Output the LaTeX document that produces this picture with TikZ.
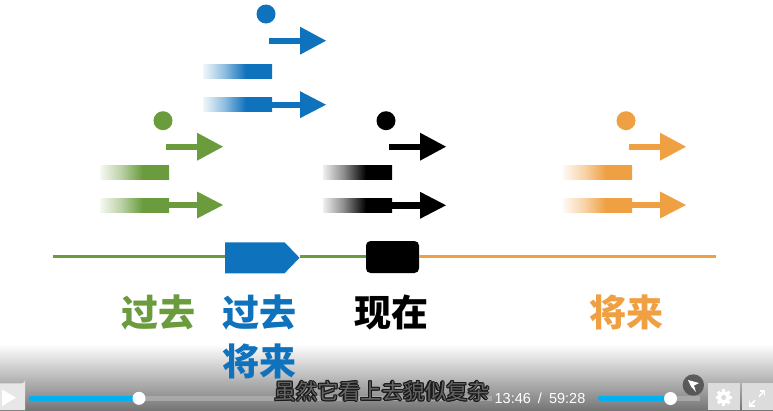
\documentclass[tikz,border=0pt]{standalone}
\usepackage{fontspec}
\newfontfamily\cjk{Noto Sans CJK SC}
\newfontfamily\ui{Liberation Sans}
\usetikzlibrary{shapes.symbols}
\definecolor{cgreen}{HTML}{6A9B3C}
\definecolor{cblue}{HTML}{0F72BD}
\definecolor{corange}{HTML}{EFA043}
\definecolor{cblk}{HTML}{000000}
\definecolor{btn}{HTML}{DCDCDC}
\definecolor{track}{HTML}{A8A8A8}
\definecolor{prog}{HTML}{00B0F0}
\colorlet{barcol}{black}
\pgfdeclarehorizontalshading[barcol]{barfade}{100bp}{%
  color(0bp)=(barcol!6); color(25bp)=(barcol!6); color(40bp)=(barcol!45);
  color(56bp)=(barcol); color(100bp)=(barcol)}
% color, x0, ydot, yarrow, ybar, ybottom
\newcommand\tgroup[6]{%
  \colorlet{barcol}{#1}%
  \fill[#1] (#2+63,#3) circle[radius=9.5];
  \fill[#1] (#2+66,#4-3.2) rectangle (#2+98,#4+3.2);
  \fill[#1] (#2+97,#4-14) -- (#2+123,#4) -- (#2+97,#4+14) -- cycle;
  \shade[shading=barfade] (#2,#5-7) rectangle (#2+69,#5+7);
  \shade[shading=barfade] (#2,#6-7) rectangle (#2+69,#6+7);
  \fill[#1] (#2+68.5,#6-3.2) rectangle (#2+98,#6+3.2);
  \fill[#1] (#2+97,#6-13.5) -- (#2+123,#6) -- (#2+97,#6+13.5) -- cycle;
}
\tikzset{
  lbl/.style={font=\cjk\bfseries\fontsize{37}{40}\selectfont, inner sep=0pt},
  tline/.style={line width=3.2pt},
  subfont/.style={font=\cjk\fontsize{21.5}{22}\selectfont, inner sep=0pt},
}
\begin{document}
\begin{tikzpicture}[x=1pt,y=-1pt]
\useasboundingbox (0,0) rectangle (773,410);
\fill[white] (0,0) rectangle (773,410);
% player gradient
\shade[top color=white, bottom color={rgb,255:red,118;green,118;blue,118}] (0,344) rectangle (773,410);

% groups
\tgroup{cgreen}{100}{120.7}{146.7}{172.3}{205}
\tgroup{cblue}{203}{14}{40.7}{71.3}{104.7}
\tgroup{cblk}{323}{120.7}{146.7}{172}{205.3}
\tgroup{corange}{563}{120.7}{146.7}{172}{205}

% timeline
\coordinate (tstart) at (52.5,256.5);
\coordinate (tend) at (716,256.5);
\node[signal, signal to=east, signal pointer angle=92, fill=cblue, inner sep=0pt,
      minimum width=74.3pt, minimum height=31pt, anchor=west] (pastfut) at (225,257.8) {};
\node[rectangle, rounded corners=4.5pt, fill=black, inner sep=0pt,
      minimum width=53pt, minimum height=32pt] (now) at (392.5,257) {};
\draw[tline, cgreen] (tstart) -- (tstart -| pastfut.west);
\draw[tline, cgreen] (pastfut.east |- tstart) -- (tstart -| now.west);
\draw[tline, corange] (tstart -| now.east) -- (tend);

% labels
\node[lbl, text=cgreen] (lpast) at (158.5,312.5) {过去};
\node[lbl, text=cblue] (lpf1) at (259,312.5) {过去};
\node[lbl, text=cblue] (lpf2) at (259,361) {将来};
\node[lbl, text=black] (lnow) at (391,312.5) {现在};
\node[lbl, text=corange] (lfut) at (626,312.5) {将来};

% player controls
\fill[btn!70!white] (0,383.3) -- (22,383.3) arc[start angle=90,end angle=0,radius=3] -- (25,410) -- (0,410) -- cycle;
\fill[white] (2,389.5) -- (16,397.7) -- (2,406) -- cycle;
\draw[track, line width=4.5pt] (139,398.3) -- (492,398.3);
\draw[prog, line width=4.5pt, line cap=round] (31,398.3) -- (139,398.3);
\fill[white] (139,398.3) circle[radius=6.5];

% subtitle with dark outline
\foreach \dx/\dy in {-1.2/0,1.2/0,0/-1.2,0/1.2,-0.9/-0.9,0.9/0.9,-0.9/0.9,0.9/-0.9}{
  \node[subfont, text={rgb,255:red,25;green,25;blue,25}] at (382+\dx,391.5+\dy) {虽然它看上去貌似复杂};
}
\node[subfont, text={rgb,255:red,100;green,100;blue,100}] (subt) at (382,391.5) {虽然它看上去貌似复杂};

\node[font=\ui\fontsize{14.5}{15}\selectfont, text=white, inner sep=0pt] (time) at (540,398.5)
  {13:46\hspace{3pt} /\hspace{3pt} 59:28};

\draw[track, line width=4.5pt] (670,398.5) -- (700,398.5);
\draw[prog, line width=4.5pt, line cap=round] (600,398.5) -- (670,398.5);
\fill[white] (670.5,398.5) circle[radius=6.5];
\fill[black!70, opacity=0.85] (693.3,385) circle[radius=10.7];
\fill[white] (688,380) -- (699,383) -- (694,385.5) -- (696,392) -- (691,386.5) -- cycle;

% gear button
\fill[btn] (707.5,383.3) rectangle (740,410);
\begin{scope}[shift={(723.7,397.5)}]
  \foreach \a in {0,45,...,315}{
    \fill[white, rotate=\a] (-1.6,-8.2) rectangle (1.6,0);
  }
  \fill[white] (0,0) circle[radius=6.3];
  \fill[btn] (0,0) circle[radius=2.6];
\end{scope}
% fullscreen button
\fill[btn] (742,383.3) rectangle (773,410);
\draw[white, line width=1.6pt] (759,396.5) -- (764.5,391);
\draw[white, line width=1.6pt] (759.5,391) -- (764.5,391) -- (764.5,396);
\draw[white, line width=1.6pt] (755,400.5) -- (749.5,406);
\draw[white, line width=1.6pt] (749.5,401) -- (749.5,406) -- (754.5,406);
\end{tikzpicture}
\end{document}
